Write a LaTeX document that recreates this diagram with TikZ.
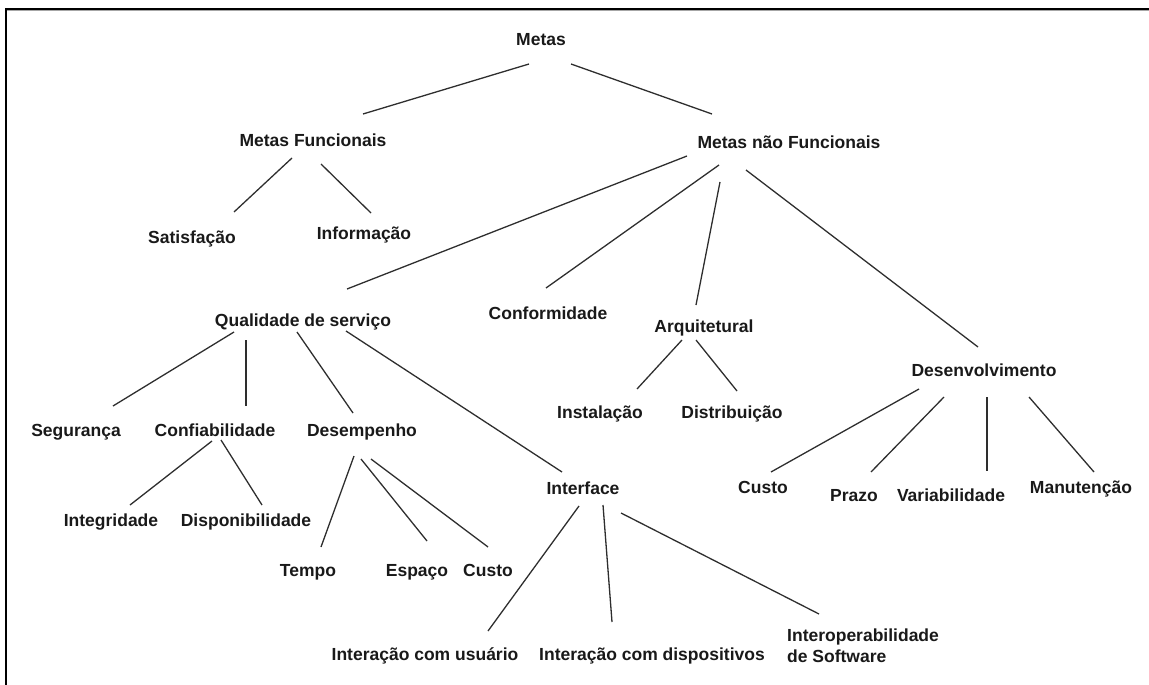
\documentclass[tikz,border=0pt]{standalone}
\usepackage{fontspec}
\setmainfont{Liberation Sans}
\begin{document}
\begin{tikzpicture}[x=1pt,y=-1pt,
  lbl/.style={font=\bfseries\fontsize{17.5}{21}\selectfont, inner sep=0pt, anchor=base, text=black!90},
  link/.style={draw=black!82, line width=1.3pt},
  frame/.style={draw=black, line width=1.6pt}]
\useasboundingbox (0,0) rectangle (1149,685);
% window frame
\draw[draw=black!35, line width=1pt] (7,11) -- (1149,11);
\draw[frame] (6.2,9.3) -- (1149,9.3);
\draw[frame] (6.2,8.5) -- (6.2,685);

% labels
\node[lbl] (metas)  at (541,46)  {Metas};
\node[lbl] (mf)     at (313,146) {Metas Funcionais};
\node[lbl] (mnf)    at (789,148) {Metas não Funcionais};
\node[lbl] (sat)    at (192,243) {Satisfação};
\node[lbl] (inf)    at (364,239) {Informação};
\node[lbl] (qual)   at (303,326) {Qualidade de serviço};
\node[lbl] (conf)   at (548,319) {Conformidade};
\node[lbl] (arq)    at (704,332) {Arquitetural};
\node[lbl] (inst)   at (600,418) {Instalação};
\node[lbl] (dist)   at (732,418) {Distribuição};
\node[lbl] (des)    at (984,376) {Desenvolvimento};
\node[lbl] (custoB) at (763,493) {Custo};
\node[lbl] (prazo)  at (854,501) {Prazo};
\node[lbl] (var)    at (951,501) {Variabilidade};
\node[lbl] (man)    at (1081,493) {Manutenção};
\node[lbl] (seg)    at (76,436)  {Segurança};
\node[lbl] (confi)  at (215,436) {Confiabilidade};
\node[lbl] (desemp) at (362,436) {Desempenho};
\node[lbl] (integ)  at (111,526) {Integridade};
\node[lbl] (disp)   at (246,526) {Disponibilidade};
\node[lbl] (tempo)  at (308,576) {Tempo};
\node[lbl] (espaco) at (417,576) {Espaço};
\node[lbl] (custoA) at (488,576) {Custo};
\node[lbl] (interf) at (583,494) {Interface};
\node[lbl] (iu)     at (425,660) {Interação com usuário};
\node[lbl] (idisp)  at (652,660) {Interação com dispositivos};
\node[lbl, anchor=north west, align=left] (interop) at (787,629) {Interoperabilidade\\de Software};

% connectors
\draw[link] ([shift={(-12,18)}]metas.base) -- ([shift={(50,-32)}]mf.base);
\draw[link] ([shift={(30,18)}]metas.base) -- ([shift={(-77,-34)}]mnf.base);
\draw[link] ([shift={(-21,12)}]mf.base) -- ([shift={(42,-31)}]sat.base);
\draw[link] ([shift={(8,18)}]mf.base) -- ([shift={(7,-26)}]inf.base);
\draw[link] ([shift={(-102,8)}]mnf.base) -- ([shift={(44,-37)}]qual.base);
\draw[link] ([shift={(-70,17)}]mnf.base) -- ([shift={(-2,-31)}]conf.base);
\draw[link] ([shift={(-69,34)}]mnf.base) -- ([shift={(-8,-27)}]arq.base);
\draw[link] ([shift={(-43,22)}]mnf.base) -- ([shift={(-6,-29)}]des.base);
\draw[link] ([shift={(-22,8)}]arq.base) -- ([shift={(37,-29)}]inst.base);
\draw[link] ([shift={(-8,8)}]arq.base) -- ([shift={(5,-27)}]dist.base);
\draw[link] ([shift={(-65,13)}]des.base) -- ([shift={(8,-21)}]custoB.base);
\draw[link] ([shift={(-40,21)}]des.base) -- ([shift={(17,-29)}]prazo.base);
\draw[link] ([shift={(3,21)}]des.base) -- ([shift={(36,-30)}]var.base);
\draw[link] ([shift={(45,21)}]des.base) -- ([shift={(13,-21)}]man.base);
\draw[link] ([shift={(-69,6)}]qual.base) -- ([shift={(37,-30)}]seg.base);
\draw[link] ([shift={(-57,14)}]qual.base) -- ([shift={(31,-30)}]confi.base);
\draw[link] ([shift={(-6,6)}]qual.base) -- ([shift={(-9,-23)}]desemp.base);
\draw[link] ([shift={(43,5)}]qual.base) -- ([shift={(-21,-22)}]interf.base);
\draw[link] ([shift={(-3,5)}]confi.base) -- ([shift={(19,-21)}]integ.base);
\draw[link] ([shift={(6,4)}]confi.base) -- ([shift={(16,-21)}]disp.base);
\draw[link] ([shift={(-8,20)}]desemp.base) -- ([shift={(13,-29)}]tempo.base);
\draw[link] ([shift={(-1,23)}]desemp.base) -- ([shift={(10,-35)}]espaco.base);
\draw[link] ([shift={(9,23)}]desemp.base) -- ([shift={(0,-29)}]custoA.base);
\draw[link] ([shift={(-4,12)}]interf.base) -- ([shift={(63,-29)}]iu.base);
\draw[link] ([shift={(20,11)}]interf.base) -- ([shift={(-40,-38)}]idisp.base);
\draw[link] ([shift={(38,19)}]interf.base) -- ([shift={(32,-15)}]interop.north west);
\end{tikzpicture}
\end{document}
